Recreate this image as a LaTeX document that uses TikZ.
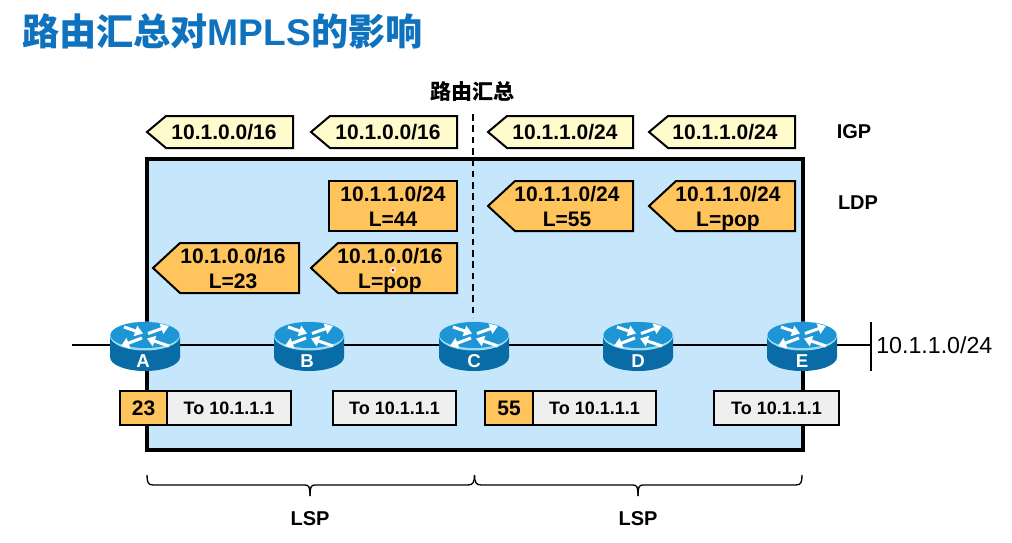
\documentclass[tikz,border=0pt]{standalone}
\usepackage{fontspec}
\setmainfont{Liberation Sans}
\newfontfamily\cjk{Noto Sans CJK SC}
\usetikzlibrary{arrows.meta}
\definecolor{panelblue}{HTML}{C6E6FC}
\definecolor{igpfill}{HTML}{FFFBCC}
\definecolor{ldpfill}{HTML}{FFC45C}
\definecolor{payfill}{HTML}{EFEFEF}
\definecolor{titleblue}{HTML}{0F72BE}
\definecolor{rtop}{HTML}{1E96D6}
\definecolor{rrim}{HTML}{9ADCF6}
\definecolor{rbody}{HTML}{0A6CA6}
\tikzset{
  x=0.75pt,y=-0.75pt,
  igptag/.style={draw=black,line width=1.5pt,fill=igpfill,line join=miter},
  ldptag/.style={draw=black,line width=1.5pt,fill=ldpfill,line join=miter},
  taglabel/.style={inner sep=0pt,align=center,yshift=-1.8pt,font=\fontsize{15.75}{18.75}\selectfont\bfseries},
  labelcell/.style={draw=black,line width=1.5pt,fill=ldpfill},
  paycell/.style={draw=black,line width=1.5pt,fill=payfill},
  celltext/.style={inner sep=0pt,font=\fontsize{15.75}{18}\selectfont\bfseries},
  paytext/.style={inner sep=0pt,font=\fontsize{13.5}{16}\selectfont\bfseries},
  link/.style={draw=black,line width=1.5pt},
  bracketline/.style={draw=black,line width=1pt},
  sidelabel/.style={inner sep=0pt,font=\fontsize{15}{18}\selectfont\bfseries},
  routername/.style={inner sep=0pt,text=white,font=\fontsize{14}{16}\selectfont\bfseries},
  rarrow/.style={draw=white,line width=2.3pt,-{Triangle[length=6pt,width=8pt]}},
  router/.pic={
    \fill[rbody] (-35,0) -- (-35,21) .. controls (-35,29) and (-19,35) .. (0,35)
      .. controls (19,35) and (35,29) .. (35,21) -- (35,0) -- cycle;
    \fill[rrim] (0,0) ellipse [x radius=35,y radius=14.5];
    \fill[rtop] (0,-1) ellipse [x radius=34.5,y radius=13];
    \draw[rarrow] (-21,-9) -- (-2,-2.5);
    \draw[rarrow] (3,-2.5) -- (24,-10);
    \draw[rarrow] (-3,2) -- (-24,10);
    \draw[rarrow] (24,10) -- (2,2.5);
  }
}
% name, style, tip x, shoulder x, right x, top y, mid y, bottom y, text x, then {text}
\newcommand{\sigtag}[9]{%
  \draw[#2] (#3,#7) -- (#4,#6) -- (#5,#6) -- (#5,#8) -- (#4,#8) -- cycle;
  \sigtagtext{#1}{#9}{#7}}
\newcommand{\sigtagtext}[4]{\node[taglabel] (#1) at (#2,#3) {#4\vphantom{p}};}
% name, left, right, text x, text, style, text style
\newcommand{\cellbox}[7]{%
  \draw[#6] (#2,391) rectangle (#3,425);
  \node[#7] (#1) at (#4,408) {#5};}
\begin{document}
\begin{tikzpicture}
\useasboundingbox (0,0) rectangle (1012,542);
% title
\node[anchor=west,inner sep=0pt,text=titleblue,font=\fontsize{27.85}{32}\selectfont\bfseries] (title) at (22,31) {{\cjk 路由汇总对}MPLS{\cjk 的影响}};
% panel
\draw[draw=black,line width=2.5pt,fill=panelblue] (147,159) rectangle (803,450);
% summary marker
\node[inner sep=0pt,font=\fontsize{15.75}{18}\selectfont\bfseries\cjk] (summ) at (472,91) {路由汇总};
\coordinate (dashtop) at (473,114);
\coordinate (dashend) at (473,318);
\draw[black,line width=1.5pt,dash pattern=on 5pt off 3.5pt] (dashtop) -- (dashend);
% IGP tags
\sigtag{i1}{igptag}{147}{166}{293}{116}{132}{148}{224}{10.1.0.0/16}
\sigtag{i2}{igptag}{311}{330}{457}{116}{132}{148}{388}{10.1.0.0/16}
\sigtag{i3}{igptag}{488}{507}{633}{116}{132}{148}{565}{10.1.1.0/24}
\sigtag{i4}{igptag}{649}{668}{795}{116}{132}{148}{725}{10.1.1.0/24}
\node[sidelabel] (igp) at (854,132) {IGP};
\node[sidelabel] (ldp) at (858,203) {LDP};
% LDP tags
\draw[ldptag] (329,181) rectangle (457,231);
\node[taglabel] (l1) at (393,206) {10.1.1.0/24\\L=44\vphantom{p}};
\sigtag{l2}{ldptag}{488}{515}{633}{181}{206}{231}{567}{10.1.1.0/24\\L=55}
\sigtag{l3}{ldptag}{649}{676}{795}{181}{206}{231}{728}{10.1.1.0/24\\L=pop}
\sigtag{l4}{ldptag}{153}{180}{299}{243}{268}{293}{233}{10.1.0.0/16\\L=23}
\sigtag{l5}{ldptag}{311}{338}{457}{243}{268}{293}{390}{10.1.0.0/16\\L=pop}
% pointer dot
\fill[white] (393,270) circle [radius=3];
\fill[red!85!black] (393,270) circle [radius=1.7];
% link line
\coordinate (west) at (72,345);
\coordinate (rA) at (145,345);
\coordinate (rB) at (309,345);
\coordinate (rC) at (474,345);
\coordinate (rD) at (638,345);
\coordinate (rE) at (802,345);
\coordinate (east) at (871,345);
\coordinate (nettop) at (871,322);
\coordinate (netbot) at (871,371);
\draw[link] (west) -- (rA) -- (rB) -- (rC) -- (rD) -- (rE) -- (east);
\draw[link] (nettop) -- (netbot);
\node[anchor=west,inner sep=0pt,font=\fontsize{17.4}{20}\selectfont] (net) at (876,345) {10.1.1.0/24};
% routers
\pic at (145,336) {router};
\pic at (309,336) {router};
\pic at (474,336) {router};
\pic at (638,336) {router};
\pic at (802,336) {router};
\node[routername] (A) at (143,361) {A};
\node[routername] (B) at (307,361) {B};
\node[routername] (C) at (474,361) {C};
\node[routername] (D) at (638,361) {D};
\node[routername] (E) at (802,361) {E};
% packets
\cellbox{c23}{120}{167}{143.5}{23}{labelcell}{celltext}
\cellbox{p1}{167}{291}{229}{To 10.1.1.1}{paycell}{paytext}
\cellbox{p2}{333}{456}{394.5}{To 10.1.1.1}{paycell}{paytext}
\cellbox{c55}{485}{533}{509}{55}{labelcell}{celltext}
\cellbox{p3}{533}{656}{594.5}{To 10.1.1.1}{paycell}{paytext}
\cellbox{p4}{714}{839}{776.5}{To 10.1.1.1}{paycell}{paytext}
% braces
\draw[bracketline] (147,475) .. controls (147,482) and (148,485) .. (153,485) -- (305,485)
  .. controls (309,485) and (310,487) .. (310,496);
\draw[bracketline] (310,496) .. controls (310,487) and (311,485) .. (315,485) -- (468,485)
  .. controls (473,485) and (474.5,482) .. (474.5,475);
\draw[bracketline] (474.5,475) .. controls (474.5,482) and (476,485) .. (481,485) -- (633,485)
  .. controls (637,485) and (638,487) .. (638,496);
\draw[bracketline] (638,496) .. controls (638,487) and (639,485) .. (643,485) -- (796,485)
  .. controls (801,485) and (802,482) .. (802,475);
\node[sidelabel] (lsp1) at (310,519) {LSP};
\node[sidelabel] (lsp2) at (638,519) {LSP};
\end{tikzpicture}
\end{document}
